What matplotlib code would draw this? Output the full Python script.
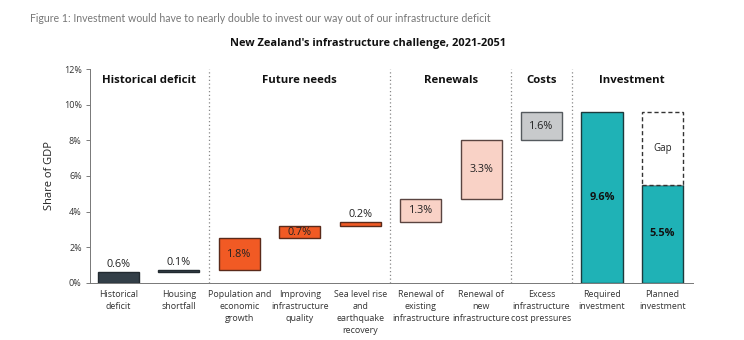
import numpy as np
import matplotlib
matplotlib.use("Agg")
import matplotlib.pyplot as plt

plt.rcParams["font.family"] = ["Open Sans", "DejaVu Sans"]

# Data
categories = [
    "Historical\ndeficit",
    "Housing\nshortfall",
    "Population and\neconomic\ngrowth",
    "Improving\ninfrastructure\nquality",
    "Sea level rise\nand\nearthquake\nrecovery",
    "Renewal of\nexisting\ninfrastructure",
    "Renewal of\nnew\ninfrastructure",
    "Excess\ninfrastructure\ncost pressures",
    "Required\ninvestment",
    "Planned\ninvestment",
]
bar_bottoms = [0.0, 0.6, 0.7, 2.5, 3.2, 3.4, 4.7, 8.0, 0.0, 0.0]
bar_values = [0.6, 0.1, 1.8, 0.7, 0.2, 1.3, 3.3, 1.6, 9.6, 5.5]
bar_groups = ["hist", "hist", "future", "future", "future",
              "renew", "renew", "costs", "invest", "invest"]
gap_value = 9.6 - 5.5

sections = ["Historical deficit", "Future needs", "Renewals", "Costs", "Investment"]
section_centers = [0.5, 3, 5.5, 7, 8.5]
separators = [1.5, 4.5, 6.5, 7.5]

fills = {"hist": "#333f48", "future": "#f15a24", "renew": "#f9d2c6",
         "costs": "#c8cacc", "invest": "#1fb2b6"}
edges = {"hist": "#222a30", "future": "#5a2a1a", "renew": "#5a4440",
         "costs": "#555a5e", "invest": "#1c3a3c"}

fig = plt.figure(figsize=(7.44, 3.4), dpi=100)
ax = fig.add_axes([0.121, 0.168, 0.81, 0.629])

x = np.arange(len(categories))
width = 0.68
for i in x:
    g = bar_groups[i]
    ax.bar(i, bar_values[i], width, bottom=bar_bottoms[i],
           color=fills[g], edgecolor=edges[g], linewidth=1.0, zorder=3)

# gap box on planned investment
ax.bar(9, gap_value, width, bottom=bar_values[9], color="white",
       edgecolor="#333333", linewidth=1.0, linestyle=(0, (3, 2)), zorder=3)
ax.text(9, bar_values[9] + gap_value / 2, "Gap", ha="center", va="center",
        fontsize=7, color="#222222", zorder=4)

# value labels
for i in x:
    v = bar_values[i]
    lab = f"{v:.1f}%"
    top = bar_bottoms[i] + v
    if v < 0.65:
        ax.text(i, top + 0.12, lab, ha="center", va="bottom",
                fontsize=7.8, color="#222222", zorder=4)
    elif bar_groups[i] == "invest":
        ax.text(i, bar_bottoms[i] + v / 2, lab, ha="center", va="center",
                fontsize=7.8, fontweight="bold", color="#111111", zorder=4)
    else:
        ax.text(i, bar_bottoms[i] + v / 2, lab, ha="center", va="center",
                fontsize=7.8, color="#222222", zorder=4)

for s in separators:
    ax.axvline(s, color="#888888", linestyle=(0, (1, 2)), linewidth=0.9, zorder=1)

for name, c in zip(sections, section_centers):
    ax.text(c, 11.35, name, ha="center", va="center", fontsize=8.2,
            fontweight="bold", color="#111111")

ax.set_xlim(-0.47, 9.5)
ax.set_ylim(0, 12)
ax.set_yticks(np.arange(0, 13, 2))
ax.set_yticklabels([f"{t}%" for t in range(0, 13, 2)], fontsize=6.5, color="#333333")
ax.set_xticks(x)
ax.set_xticklabels(categories, fontsize=6.4, color="#333333", linespacing=1.45)
ax.tick_params(axis="x", length=0, pad=5)
ax.tick_params(axis="y", length=3, width=0.6, color="#666666", pad=3)
ax.set_ylabel("Share of GDP", fontsize=8, color="#222222", labelpad=6)

for sp in ["top", "right"]:
    ax.spines[sp].set_visible(False)
ax.spines["left"].set_color("#777777")
ax.spines["bottom"].set_color("#777777")
ax.spines["left"].set_linewidth(0.7)
ax.spines["bottom"].set_linewidth(0.7)

fig.text(0.495, 0.873, "New Zealand's infrastructure challenge, 2021-2051",
         ha="center", va="center", fontsize=7.9, fontweight="bold", color="#111111")
fig.text(0.04, 0.945,
         "Figure 1: Investment would have to nearly double to invest our way out of our infrastructure deficit",
         ha="left", va="center", fontsize=7.6, color="#777777", family=["Lato", "DejaVu Sans"])

fig.savefig("out.png", dpi=100, facecolor="white")
